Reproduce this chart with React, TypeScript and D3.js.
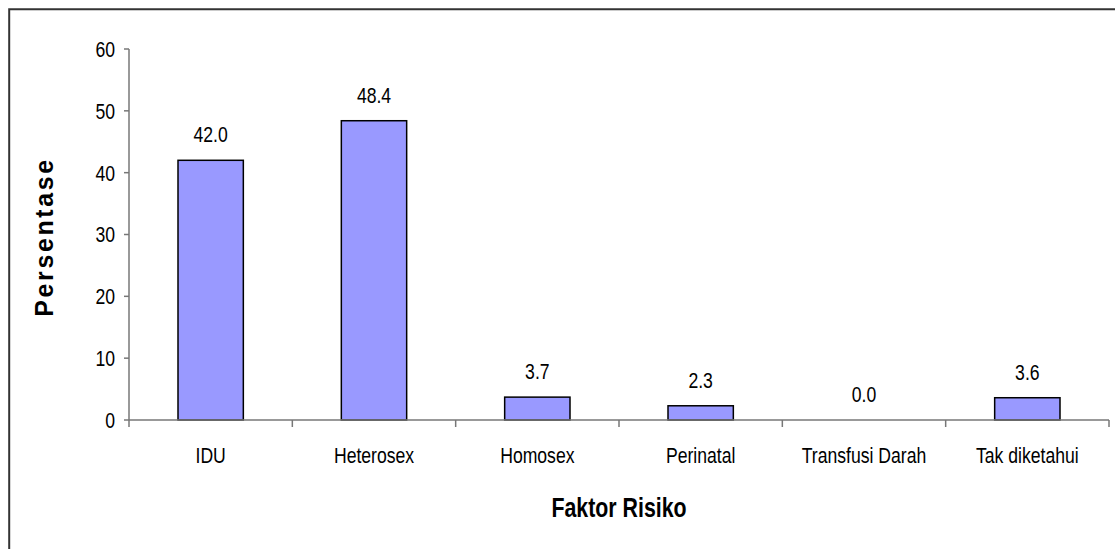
import React from "react";
import { scaleBand, scaleLinear } from "d3";

const categories = [
  "IDU",
  "Heterosex",
  "Homosex",
  "Perinatal",
  "Transfusi Darah",
  "Tak diketahui"
];
const values = [42.0, 48.4, 3.7, 2.3, 0.0, 3.6];
const yTicks = [0, 10, 20, 30, 40, 50, 60];
const xTitle = "Faktor Risiko";
const yTitle = "Persentase";

const W = 1115;
const H = 549;
const FONT = "'Liberation Sans', Arial, sans-serif";

// the original uses a condensed face, squeeze regular Liberation Sans instead
function Label({ x, y, anchor = "middle", size = 22, squeeze = 0.8, bold = false, dy, children }) {
  return (
    <text
      transform={`translate(${x},${y}) scale(${squeeze},1)`}
      dy={dy}
      textAnchor={anchor}
      fontFamily={FONT}
      fontSize={size}
      fontWeight={bold ? "bold" : "normal"}
      fill="#000"
    >
      {children}
    </text>
  );
}

export default function App() {
  const margin = { top: 49, left: 129, right: 6, bottom: 129 };
  const x0 = margin.left,
    x1 = W - margin.right,
    y0 = H - margin.bottom;

  const xScale = scaleBand<string>().domain(categories).range([x0, x1]);
  const yScale = scaleLinear().domain([0, 60]).range([y0, margin.top]);
  const barW = xScale.bandwidth() * 0.4;
  const mid = (c: string) => (xScale(c) as number) + xScale.bandwidth() / 2;

  return (
    <svg
      width={W}
      height={H}
      style={{ position: "absolute", left: 0, top: 0, background: "#fff" }}
    >
      {/* chart frame */}
      <path d={`M9.2,${H} V9.2 H${W}`} fill="none" stroke="#333" strokeWidth={2} />

      {/* y axis */}
      <line x1={x0} x2={x0} y1={yScale(60)} y2={y0} stroke="#777" strokeWidth={1.5} />
      {yTicks.map(t => (
        <g key={t}>
          <line x1={x0 - 5} x2={x0} y1={yScale(t)} y2={yScale(t)} stroke="#777" strokeWidth={1.5} />
          <Label x={x0 - 14} y={yScale(t)} dy="0.36em" anchor="end">
            {t}
          </Label>
        </g>
      ))}

      {/* bars */}
      {categories.map((c, i) => {
        const v = values[i];
        return (
          <g key={c}>
            {v > 0 && (
              <rect
                x={mid(c) - barW / 2}
                y={yScale(v)}
                width={barW}
                height={y0 - yScale(v)}
                fill="#9999FF"
                stroke="#000"
                strokeWidth={1.5}
              />
            )}
            <Label x={mid(c)} y={yScale(v) - 18}>
              {v.toFixed(1)}
            </Label>
          </g>
        );
      })}

      {/* x axis */}
      <line x1={x0} x2={x1} y1={y0} y2={y0} stroke="#777" strokeWidth={1.5} />
      {categories.map(c => (
        <line
          key={"t" + c}
          x1={xScale(c) as number}
          x2={xScale(c) as number}
          y1={y0}
          y2={y0 + 7}
          stroke="#777"
          strokeWidth={1.5}
        />
      ))}
      <line x1={x1} x2={x1} y1={y0} y2={y0 + 7} stroke="#777" strokeWidth={1.5} />
      {categories.map(c => (
        <Label key={"l" + c} x={mid(c)} y={463}>
          {c}
        </Label>
      ))}

      {/* axis titles */}
      <Label x={(x0 + x1) / 2} y={517} size={27} squeeze={0.79} bold>
        {xTitle}
      </Label>
      <text
        transform="translate(53, 237) rotate(-90)"
        textAnchor="middle"
        fontFamily={FONT}
        fontWeight="bold"
        fontSize={25}
        letterSpacing={2.6}
        fill="#000"
      >
        {yTitle}
      </text>
    </svg>
  );
}
